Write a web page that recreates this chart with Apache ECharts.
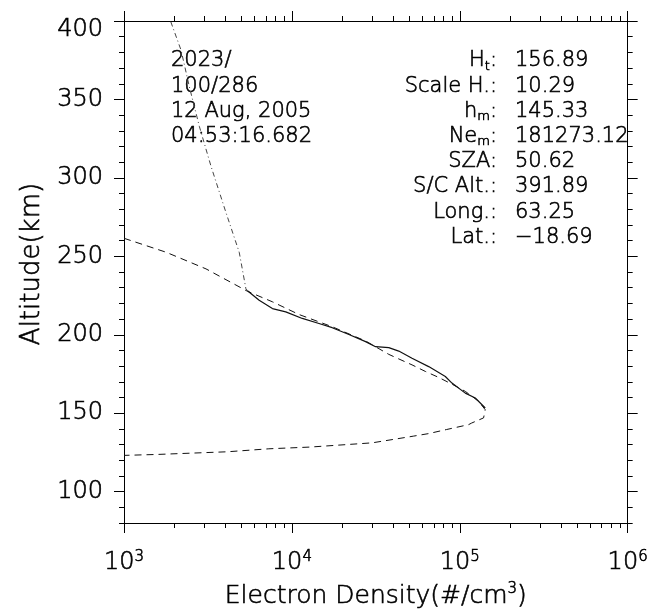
<!DOCTYPE html>
<html><head><meta charset="utf-8">
<script src="https://cdn.jsdelivr.net/npm/echarts@6/dist/echarts.min.js"></script>
<style>html,body{margin:0;padding:0;background:#fff}#c{width:651px;height:615px}</style>
</head><body><div id="c"></div>
<script>
// ---- data ----
// topside extension of the measured profile (dash-dot)
const upperDensity = [1900, 2187, 2449, 2809, 3296, 4046, 4856, 5321, 5440];
const upperAlt     = [399.5, 381.4, 358.2, 332.9, 307.5, 278.0, 252.6, 229.4, 228.1];
// measured profile (solid)
const measDensity = [5440, 5568, 6383, 7656, 9196, 11540, 14500, 17390, 21860, 27480, 31500, 37780, 43310, 51950, 65290, 82050, 89820, 107900, 123700, 141800];
const measAlt     = [228.1, 227.3, 222.0, 216.7, 214.6, 210.4, 207.2, 204.5, 200.2, 195.6, 192.4, 191.8, 189.6, 185.0, 179.7, 173.4, 169.2, 162.8, 159.7, 153.3];
// Chapman fit (dashed)
const fitDensity = [1000, 1781, 3078, 5440, 7656, 11030, 17390, 27480, 37780, 43310, 51950, 62420, 74880, 89820, 107900, 129400, 141800, 138600, 117600, 112900, 83530, 65290, 53190, 30110, 12820, 7289, 4120, 1575, 1000];
const fitAlt     = [261.5, 252.6, 242.0, 227.7, 221.0, 212.9, 205.1, 196.0, 187.5, 184.6, 180.8, 176.6, 172.8, 168.5, 163.9, 157.6, 152.2, 147.0, 143.7, 142.7, 139.6, 137.0, 135.4, 131.1, 128.4, 127.3, 125.4, 123.7, 123.1];
// axes
const xMajorTicks = [1e3, 1e4, 1e5, 1e6];
const yMajorTicks = [100, 150, 200, 250, 300, 350, 400];
const xTitle = 'Electron Density(#/cm{s|3})';
const yTitle = 'Altitude(km)';
// annotations
const infoLines = ['2023/', '100/286', '12 Aug, 2005', '04:53:16.682'];
const paramNames  = ['H_t', 'Scale H.', 'h_m', 'Ne_m', 'SZA', 'S/C Alt.', 'Long.', 'Lat.'];
const paramValues = ['156.89', '10.29', '145.33', '181273.12', '50.62', '391.89', '63.25', '-18.69'];

// ---- tick helpers ----
const xMinorTicks = [];
for (let d = 1e3; d < 1e6; d *= 10) for (let k = 2; k <= 9; k++) xMinorTicks.push(k * d);
const yMinorTicks = [];
for (let v = 80; v <= 400; v += 10) if (v % 50 !== 0) yMinorTicks.push(v);

const FONT = 'DejaVu Sans';
const FW = 200;
const black = '#000';
const lineSt = { color: black, width: 1 };
const zip = (a, b) => a.map((v, i) => [v, b[i]]);
// thin-stroke text look (like the plotting package's vector font)
const ts = (size, extra) => Object.assign({ fontSize: size, fontFamily: FONT, fontWeight: FW, color: black,
  textBorderColor: black, textBorderWidth: 0.6 }, extra || {});
const gs = (size, extra) => Object.assign({ fontSize: size, fontFamily: FONT, fontWeight: FW, fill: black,
  stroke: black, lineWidth: 0.6 }, extra || {});

const xBase = { type: 'log', logBase: 10, min: 1e3, max: 1e6, splitLine: { show: false },
  axisLine: { show: true, onZero: false, lineStyle: lineSt } };
const yBase = { type: 'value', min: 80, max: 400, splitLine: { show: false },
  axisLine: { show: true, onZero: false, lineStyle: lineSt } };

const chart = echarts.init(document.getElementById('c'), null, { renderer: 'canvas' });

const graphics = [];
const rowY0 = 61, rowDy = 25.2;
infoLines.forEach((t, i) => graphics.push({
  type: 'text', x: 171, y: rowY0 + i * rowDy,
  style: gs(21, { text: t, verticalAlign: 'middle', align: 'left' })
}));
const subRich = { s: gs(13, { verticalAlign: 'bottom', lineHeight: 12 }) };
paramNames.forEach((n, i) => {
  graphics.push({
    type: 'text', x: 497, y: rowY0 + i * rowDy,
    style: gs(21, { text: n.replace(/_(\w)/, '{s|$1}') + ':', verticalAlign: 'middle', align: 'right',
      lineHeight: 24, rich: subRich })
  });
  graphics.push({
    type: 'text', x: 515, y: rowY0 + i * rowDy,
    style: gs(21, { text: paramValues[i].replace('-', '\u2212'), verticalAlign: 'middle', align: 'left' })
  });
});

chart.setOption({
  animation: false,
  backgroundColor: '#fff',
  grid: { left: 124, top: 21, width: 505, height: 505, containLabel: false },
  xAxis: [
    Object.assign({}, xBase, {
      position: 'bottom',
      axisTick: { show: true, length: 10, customValues: xMajorTicks, lineStyle: lineSt },
      axisLabel: ts(24, {
        customValues: xMajorTicks, margin: 27,
        formatter: v => '{b|10}{s|' + Math.round(Math.log10(v)) + '}',
        rich: { b: ts(24, { lineHeight: 26 }), s: ts(15, { lineHeight: 15, verticalAlign: 'top' }) }
      }),
      name: xTitle, nameLocation: 'middle', nameGap: 59,
      nameTextStyle: ts(25, { lineHeight: 28, rich: { s: ts(15, { lineHeight: 15, verticalAlign: 'top' }) } })
    }),
    Object.assign({}, xBase, { position: 'top',
      axisTick: { show: true, length: 10, customValues: xMajorTicks, lineStyle: lineSt }, axisLabel: { show: false } }),
    Object.assign({}, xBase, { position: 'bottom', axisLine: { show: false },
      axisTick: { show: true, length: 5, customValues: xMinorTicks, lineStyle: lineSt }, axisLabel: { show: false } }),
    Object.assign({}, xBase, { position: 'top', axisLine: { show: false },
      axisTick: { show: true, length: 5, customValues: xMinorTicks, lineStyle: lineSt }, axisLabel: { show: false } })
  ],
  yAxis: [
    Object.assign({}, yBase, {
      position: 'left',
      axisTick: { show: true, length: 10, customValues: yMajorTicks, lineStyle: lineSt },
      axisLabel: ts(24, {
        customValues: yMajorTicks, margin: 21,
        formatter: v => (v === 400 ? '{t|400}' : String(v)),
        rich: { t: ts(24, { padding: [17, 0, 0, 0] }) }
      }),
      name: yTitle, nameLocation: 'middle', nameGap: 77,
      nameTextStyle: ts(26, { padding: [0, 0, 0, 16] })
    }),
    Object.assign({}, yBase, { position: 'right',
      axisTick: { show: true, length: 10, customValues: yMajorTicks, lineStyle: lineSt }, axisLabel: { show: false } }),
    Object.assign({}, yBase, { position: 'left', axisLine: { show: false },
      axisTick: { show: true, length: 5, customValues: yMinorTicks, lineStyle: lineSt }, axisLabel: { show: false } }),
    Object.assign({}, yBase, { position: 'right', axisLine: { show: false },
      axisTick: { show: true, length: 5, customValues: yMinorTicks, lineStyle: lineSt }, axisLabel: { show: false } })
  ],
  series: [
    { name: 'Topside', type: 'line', xAxisIndex: 0, yAxisIndex: 0, data: zip(upperDensity, upperAlt),
      showSymbol: false, symbol: 'none', silent: true,
      lineStyle: { color: '#444', width: 1, type: [5, 3, 1, 3] } },
    { name: 'Measured', type: 'line', xAxisIndex: 0, yAxisIndex: 0, data: zip(measDensity, measAlt),
      showSymbol: false, symbol: 'none', silent: true,
      lineStyle: { color: '#111', width: 1.2, type: 'solid' } },
    { name: 'Chapman fit', type: 'line', xAxisIndex: 0, yAxisIndex: 0, data: zip(fitDensity, fitAlt),
      showSymbol: false, symbol: 'none', silent: true,
      lineStyle: { color: '#111', width: 1, type: [7, 5] } }
  ],
  graphic: graphics
});
</script></body></html>
